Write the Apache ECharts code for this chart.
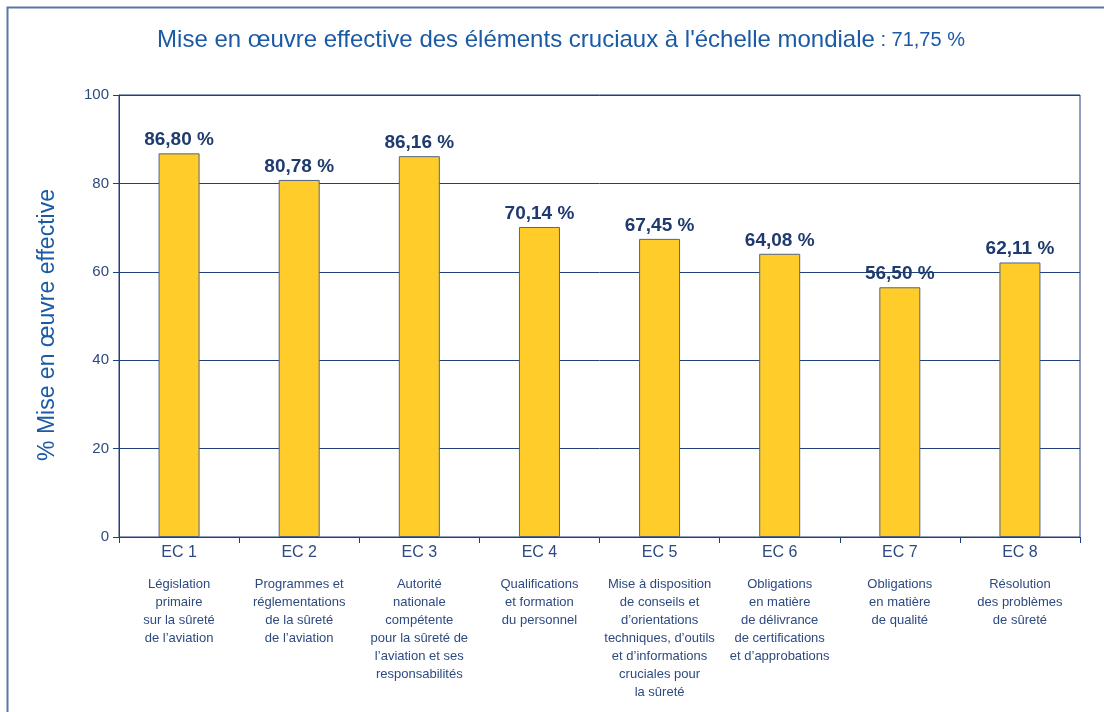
<!DOCTYPE html>
<html>
<head>
<meta charset="utf-8">
<script src="https://cdn.jsdelivr.net/npm/echarts@6/dist/echarts.min.js"></script>
<style>
  html, body { margin: 0; padding: 0; background: #fff; }
  #main { width: 1104px; height: 712px; }
</style>
</head>
<body>
<div id="main"></div>
<script>
// data
var categories = ['EC 1', 'EC 2', 'EC 3', 'EC 4', 'EC 5', 'EC 6', 'EC 7', 'EC 8'];
var descriptions = [
  'Législation\nprimaire\nsur la sûreté\nde l\u2019aviation',
  'Programmes et\nréglementations\nde la sûreté\nde l\u2019aviation',
  'Autorité\nnationale\ncompétente\npour la sûreté de\nl\u2019aviation et ses\nresponsabilités',
  'Qualifications\net formation\ndu personnel',
  'Mise à disposition\nde conseils et\nd\u2019orientations\ntechniques, d\u2019outils\net d\u2019informations\ncruciales pour\nla sûreté',
  'Obligations\nen matière\nde délivrance\nde certifications\net d\u2019approbations',
  'Obligations\nen matière\nde qualité',
  'Résolution\ndes problèmes\nde sûreté'
];
var values = [86.80, 80.78, 86.16, 70.14, 67.45, 64.08, 56.50, 62.11];
var globalRate = '71,75 %';

var chartDom = document.getElementById('main');
var myChart = echarts.init(chartDom);

var fontFam = '"Liberation Sans", Arial, sans-serif';
var navy = '#213f7a';

var option = {
  animation: false,
  textStyle: { fontFamily: fontFam },
  graphic: [
    {
      type: 'polyline',
      shape: { points: [[7.5, 712], [7.5, 7.5], [1104, 7.5]] },
      style: { stroke: '#5877a6', lineWidth: 2, fill: null }
    }
  ],
  title: {
    text: '{a|Mise en \u0153uvre effective des éléments cruciaux à l\'échelle mondiale}{b| : ' + globalRate + '}',
    left: 556,
    textAlign: 'center',
    top: 23,
    textStyle: {
      fontWeight: 'normal',
      rich: {
        a: { fontSize: 24, color: '#1b5aa5', fontFamily: fontFam, fontWeight: 'normal' },
        b: { fontSize: 20, color: '#1b5aa5', fontFamily: fontFam, fontWeight: 'normal' }
      }
    }
  },
  grid: {
    left: 119,
    right: 24,
    top: 95,
    bottom: 175,
    show: true,
    borderColor: navy,
    borderWidth: 1
  },
  xAxis: {
    type: 'category',
    data: categories,
    axisLine: { lineStyle: { color: navy, width: 1 } },
    axisTick: { show: true, length: 6, lineStyle: { color: navy } },
    axisLabel: {
      interval: 0,
      margin: 8,
      formatter: function (v, i) {
        return '{a|' + v + '}\n{b|' + descriptions[i].split('\n').join('}\n{b|') + '}';
      },
      rich: {
        a: { fontSize: 16, color: '#2d4a80', lineHeight: 30, fontFamily: fontFam, verticalAlign: 'top' },
        b: { fontSize: 13, color: '#2d4a80', lineHeight: 18, fontFamily: fontFam }
      }
    }
  },
  yAxis: {
    type: 'value',
    min: 0,
    max: 100,
    interval: 20,
    name: '% Mise en \u0153uvre effective',
    nameLocation: 'middle',
    nameGap: 60,
    nameTextStyle: { fontSize: 23, color: '#1b5aa5', fontFamily: fontFam, padding: [0, 18, 0, 0] },
    axisLine: { show: true, lineStyle: { color: navy, width: 1 } },
    axisTick: { show: true, inside: false, length: 6, lineStyle: { color: navy } },
    axisLabel: { fontSize: 15, color: '#2d4a80', margin: 10 },
    splitLine: { show: true, lineStyle: { color: navy, width: 1 } }
  },
  series: [
    {
      type: 'bar',
      data: values,
      barWidth: 41,
      itemStyle: {
        color: '#ffcc29',
        borderColor: '#50648a',
        borderWidth: 1
      },
      label: {
        show: true,
        position: 'top',
        distance: 4,
        fontSize: 19,
        fontWeight: 'bold',
        color: '#1f3a6e',
        formatter: function (p) {
          return p.value.toFixed(2).replace('.', ',') + ' %';
        }
      }
    }
  ]
};

option && myChart.setOption(option);
</script>
</body>
</html>
